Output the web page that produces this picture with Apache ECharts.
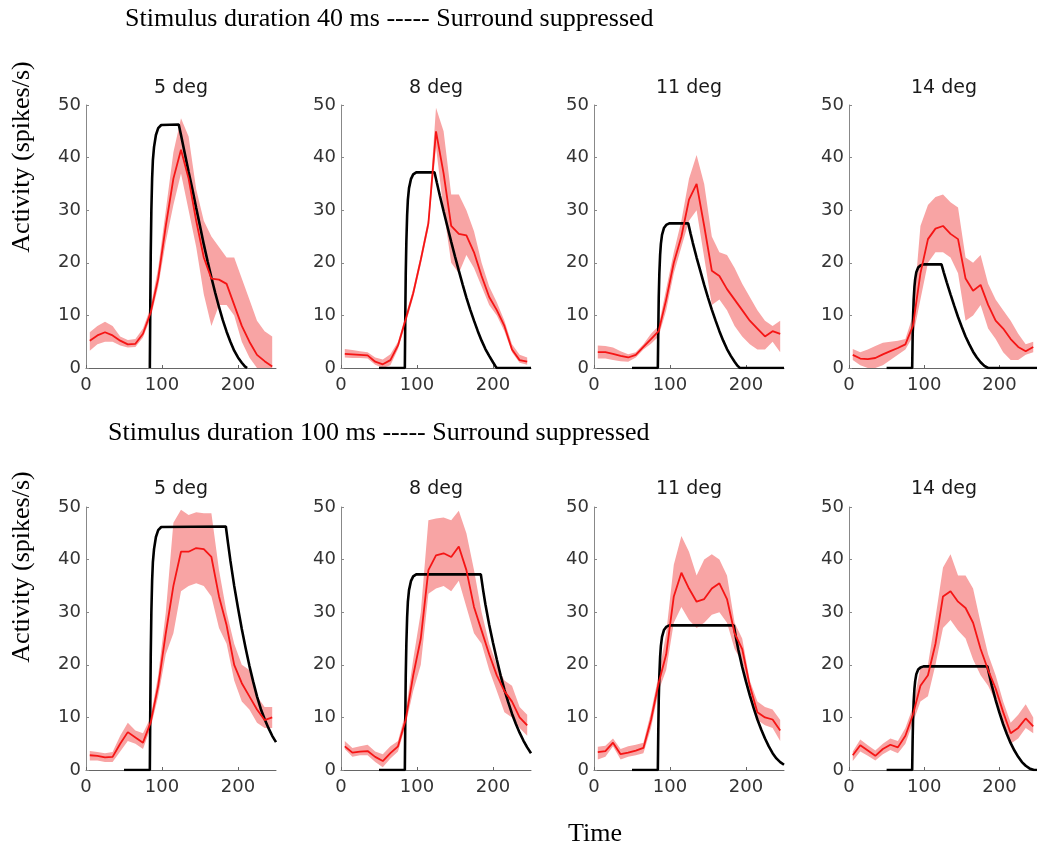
<!DOCTYPE html>
<html><head><meta charset="utf-8">
<script src="https://cdn.jsdelivr.net/npm/echarts@6/dist/echarts.min.js"></script>
<style>html,body{margin:0;padding:0;background:#fff}#c{width:1037px;height:848px}</style>
</head><body><div id="c"></div><script>
// ---- data ----
const T = [5,15,25,35,45,55,65,75,85,95,105,115,125,135,145,155,165,175,185,195,205,215,225,235,245];
const panelTitles = ['5 deg','8 deg','11 deg','14 deg'];
const rowTitles = ['Stimulus duration 40 ms ----- Surround suppressed','Stimulus duration 100 ms ----- Surround suppressed'];
const yLabel = 'Activity (spikes/s)';
const xLabel = 'Time';

// 40 ms, recorded mean and band (upper/lower)
const r40_5_mean  = [5.2,6.2,6.8,6.2,5.2,4.5,4.6,6.5,10.5,17,27,36,41.5,36,28,21,17,16.8,16,12,8,5,2.5,1.3,0.3];
const r40_5_up    = [6.8,8,8.8,8,6,5.3,5.5,7.5,11.5,19,30,41,47.5,44,34,28,25,23,21,21,17,13,9,7,6];
const r40_5_low   = [3.3,4.5,5,5,4.3,3.9,4,5.8,9.5,15.5,24,31,37,30,23,14,8,12,12,10,5,2,0,0,0];
const r40_8_mean  = [2.7,2.6,2.5,2.4,1.2,0.7,1.5,4.3,9.2,14.2,20.6,27.5,45,37,27,25.5,25.2,22,17.5,13.5,11,8,3.5,1.5,1.2];
const r40_8_up    = [3.6,3.4,3.2,3,2,1.6,2.6,5,10,15,21.5,28.5,49.5,45,33,33,30,26,20,15.5,12.5,9,4.5,2.5,2];
const r40_8_low   = [2,1.9,1.9,1.8,0.6,0,0.5,3.6,8.4,13.4,19.7,26.5,42,30,20,18,21.5,19,15.5,12,10,7,3,1,0.6];
const r40_11_mean = [3,3,2.7,2.3,2,2.5,4,5.5,7,13,20,25,32,35,27,18.5,17.5,15,13,11,9,7.5,6,7,6.5];
const r40_11_up   = [4.3,4.2,3.9,3.2,2.6,3,4.5,6.5,8,15,22,28,36,40.5,35,25,22,21.5,19,16,13.5,11,9,8,9];
const r40_11_low  = [1.8,1.8,1.5,1.3,1.2,2,3.5,4.6,6,11,18,23,28,30,21,12,13,11,8,6,4.5,3.5,3.5,5,3];
const r40_14_mean = [2.5,1.8,1.7,1.9,2.6,3.2,3.8,4.5,8,18,24.5,26.5,27,25.5,24.5,17,14.7,15.8,12,9,7.5,5.5,4,3.2,4];
const r40_14_up   = [3.6,3,3.5,4.2,4.8,5,5.2,5.5,10,27,31,32.5,33,31.5,30.5,21,20,21.5,16,13,11,9,6.5,4.5,5];
const r40_14_low  = [1.5,0.5,0,0,0.5,1.5,2.5,3.5,6,13,20,22,22,21,18,9,10,12,7.5,5.5,3,1.5,1.5,2.5,3];

// 100 ms, recorded mean and band
const r100_5_mean  = [2.8,2.7,2.4,2.5,5,7.2,6.2,5.2,9,16,26,35,41.5,41.5,42.2,42,40.5,33,27.5,20,16.5,14,11.5,9.5,10];
const r100_5_up    = [3.6,3.4,3.2,3.4,6.5,9,7.5,7,10,18,30,47,49.5,48.5,49,48.8,48.8,38,30,24,20,19,14,12,12];
const r100_5_low   = [1.8,1.8,1.5,1.5,3.5,5.5,5,4,8,14,22,26,34,35,35.5,35,33,27,24,17,13,11.5,9,8,8];
const r100_8_mean  = [4.5,3.3,3.5,3.6,2.5,1.7,3.2,4.5,9.5,18,25,38,40.8,41.2,40.5,42.5,38,31,26.5,22,18,15,13,10,8.5];
const r100_8_up    = [5.5,4.2,4.5,4.8,3.5,3,4.5,5.5,11,21,30,47.5,47.8,48,47.5,49.3,45,38,30,24,20,17,16,12,10.5];
const r100_8_low   = [4,2.5,2.8,2.8,1.5,0.5,2.2,3.5,8.5,15,20,33.5,34.5,35,34,36,31,26,24,19,15,11,10,8,6.5];
const r100_11_mean = [3.4,3.6,5.2,3,3.3,3.7,4.2,9.5,16.5,22,33,37.5,34.5,32,32.5,34.5,35.5,32.5,26,23,16,11,10,9.6,7.5];
const r100_11_up   = [4.4,4.6,6,4,4.5,4.8,5.2,11,18,26,39,44.5,41.5,37,40,41,40,37,28,25,17,13,12,11.5,9.5];
const r100_11_low  = [2,2.5,4.5,2,2.5,2.8,3.2,8,15,19,28,31,28.5,27,28,29.5,30,28,23,20.5,14.5,9.5,8.5,8,5.5];
const r100_14_mean = [2.8,4.7,3.7,2.7,4,4.8,4.3,6.5,10.5,16,18,24,33,34,32,30.8,28,23,19,15.5,11,7,8,9.8,8.3];
const r100_14_up   = [3.5,5.8,4.7,3.7,5,6,5.5,8,12,19.5,20,29,38.5,41,37,37,34.5,28,22,18,13,9,10.5,12.5,10];
const r100_14_low  = [1.7,3.5,2.7,1.8,3,3.8,3.2,5,9,13,14,20,27,28.5,26.5,25,21,18,16,13,8.5,5,6,8,7];

// model (black) curves as [time, activity]
const m40_5  = [[84,0],[84.6,12],[85.2,22],[86,30],[87,36],[88,39.5],[89.5,42],[92,44.3],[95,45.6],[99,46.2],[122,46.3],[125,44.3],[130,40.8],[135,37.3],[140,34],[145,30.4],[150,27],[155,23.5],[160,20.3],[165,17.2],[170,14.3],[175,11.6],[180,9.1],[185,6.9],[190,5],[195,3.3],[200,2],[205,1],[209,0.3],[212,0]];
const m40_8  = [[50,0],[84,0],[84.6,10],[85.2,18],[86,24],[87,29],[88,32],[89.5,34.2],[92,35.9],[95,36.8],[99,37.2],[123,37.2],[126,35.3],[130,32.8],[135,29.8],[140,26.9],[145,24],[150,21.2],[155,18.5],[160,15.9],[165,13.4],[170,11.1],[175,9],[180,7],[185,5.2],[190,3.6],[195,2.3],[200,1.1],[203,0.4],[205,0],[250,0]];
const m40_11 = [[50,0],[84,0],[84.6,7.5],[85.2,13.5],[86,18],[87,21.5],[88,23.6],[89.5,25.3],[92,26.6],[95,27.2],[99,27.5],[124,27.5],[127,25.6],[130,23.8],[135,21],[140,18.4],[145,15.8],[150,13.4],[155,11.1],[160,9],[165,7],[170,5.2],[175,3.6],[180,2.3],[185,1.2],[189,0.4],[192,0],[250,0]];
const m40_14 = [[50,0],[84,0],[84.6,5.5],[85.2,9.8],[86,13],[87,15.4],[88,16.9],[89.5,18.2],[92,19.1],[95,19.5],[99,19.7],[123,19.7],[126,18.2],[130,16.3],[135,14],[140,11.8],[145,9.7],[150,7.8],[155,6],[160,4.5],[165,3.1],[170,2],[175,1.1],[180,0.4],[185,0],[250,0]];
const m100_5  = [[50,0],[84,0],[84.6,12],[85.2,22],[86,30],[87,36],[88,39.5],[89.5,42],[92,44.3],[95,45.6],[99,46.2],[184,46.3],[187,43],[190,39.8],[195,35],[200,30.8],[205,26.8],[210,23.2],[215,19.8],[220,16.8],[225,14],[230,11.6],[235,9.7],[240,8],[245,6.5],[250,5.3]];
const m100_8  = [[50,0],[84,0],[84.6,10],[85.2,18],[86,24],[87,29],[88,32],[89.5,34.2],[92,35.9],[95,36.8],[99,37.2],[184,37.2],[187,34.2],[190,31.5],[195,27.6],[200,24.2],[205,21],[210,18],[215,15.3],[220,12.9],[225,10.7],[230,8.8],[235,7.1],[240,5.6],[245,4.3],[250,3.2]];
const m100_11 = [[50,0],[84,0],[84.6,7.5],[85.2,13.5],[86,18],[87,21.5],[88,23.6],[89.5,25.3],[92,26.6],[95,27.2],[99,27.5],[184,27.5],[187,25],[190,22.8],[195,19.6],[200,16.8],[205,14.2],[210,11.8],[215,9.6],[220,7.7],[225,6],[230,4.5],[235,3.2],[240,2.2],[245,1.5],[250,1]];
const m100_14 = [[50,0],[84,0],[84.6,5.5],[85.2,9.8],[86,13],[87,15.4],[88,16.9],[89.5,18.2],[92,19.1],[95,19.5],[99,19.7],[184,19.7],[187,17.8],[190,16],[195,13.3],[200,10.9],[205,8.7],[210,6.8],[215,5.1],[220,3.7],[225,2.5],[230,1.5],[235,0.8],[240,0.3],[246,0],[250,0]];

// ---- assembly ----
const panels = [
  {mean:r40_5_mean, up:r40_5_up, low:r40_5_low, model:m40_5},
  {mean:r40_8_mean, up:r40_8_up, low:r40_8_low, model:m40_8},
  {mean:r40_11_mean, up:r40_11_up, low:r40_11_low, model:m40_11},
  {mean:r40_14_mean, up:r40_14_up, low:r40_14_low, model:m40_14},
  {mean:r100_5_mean, up:r100_5_up, low:r100_5_low, model:m100_5},
  {mean:r100_8_mean, up:r100_8_up, low:r100_8_low, model:m100_8},
  {mean:r100_11_mean, up:r100_11_up, low:r100_11_low, model:m100_11},
  {mean:r100_14_mean, up:r100_14_up, low:r100_14_low, model:m100_14}
];
const lefts = [86, 341, 594, 849];
const tops = [105, 507];
const W = 190, H = 263;
const SANS = 'DejaVu Sans';
const SERIF = 'Liberation Serif';

// band drawn as one polygon through the axes' own coordinate mapping
function bandRenderer(params, api) {
  if (params.dataIndexInside !== 0) return null;
  const n = params.dataInsideLength;
  const top = [], bot = [];
  for (let k = 0; k < n; k++) {
    const t = api.value(0, k);
    top.push(api.coord([t, api.value(2, k)]));
    bot.push(api.coord([t, api.value(1, k)]));
  }
  const pts = top.concat(bot.reverse());
  return {
    type: 'polygon', shape: {points: pts},
    style: {fill: '#f8a4a4', stroke: null},
    clipPath: {type: 'rect', shape: {x: params.coordSys.x, y: params.coordSys.y, width: params.coordSys.width, height: params.coordSys.height}}
  };
}

const grid = [], xAxis = [], yAxis = [], series = [], title = [];
panels.forEach((p, i) => {
  const col = i % 4, row = Math.floor(i / 4);
  grid.push({left: lefts[col], top: tops[row], width: W, height: H, containLabel: false});
  xAxis.push({
    type: 'value', gridIndex: i, min: 0, max: 250, interval: 100,
    axisLine: {show: true, onZero: false, lineStyle: {color: '#666', width: 1}},
    axisTick: {show: true, inside: true, length: 3, lineStyle: {color: '#666'}},
    axisLabel: {color: '#333', fontFamily: SANS, fontSize: 18, margin: 8, showMaxLabel: false},
    splitLine: {show: false}
  });
  yAxis.push({
    type: 'value', gridIndex: i, min: 0, max: 50, interval: 10,
    axisLine: {show: true, lineStyle: {color: '#888', width: 1}},
    axisTick: {show: true, inside: true, length: 3, lineStyle: {color: '#888'}},
    axisLabel: {color: '#333', fontFamily: SANS, fontSize: 18, margin: 5},
    splitLine: {show: false}
  });
  series.push({
    type: 'custom', xAxisIndex: i, yAxisIndex: i, silent: true, z: 1,
    renderItem: bandRenderer,
    encode: {x: 0, y: [1, 2]},
    data: T.map((t, k) => [t, p.low[k], p.up[k]])
  });
  series.push({
    type: 'line', xAxisIndex: i, yAxisIndex: i, symbol: 'none', silent: true,
    lineStyle: {color: '#000', width: 2.6}, data: p.model, z: 2
  });
  series.push({
    type: 'line', xAxisIndex: i, yAxisIndex: i, symbol: 'none', silent: true,
    lineStyle: {color: '#f51515', width: 1.8}, data: T.map((t, k) => [t, p.mean[k]]), z: 3
  });
  title.push({
    text: panelTitles[col], left: lefts[col] + W / 2, top: row === 0 ? 79 : 480, textAlign: 'center',
    padding: 0,
    textStyle: {fontFamily: SANS, fontSize: 19, fontWeight: 'normal', color: '#1a1a1a'}
  });
});
title.push({text: rowTitles[0], left: 125, top: 6, padding: 0,
  textStyle: {fontFamily: SERIF, fontSize: 26, fontWeight: 'normal', color: '#000'}});
title.push({text: rowTitles[1], left: 108, top: 420, padding: 0,
  textStyle: {fontFamily: SERIF, fontSize: 26, fontWeight: 'normal', color: '#000'}});
title.push({text: xLabel, left: 595, top: 821, textAlign: 'center', padding: 0,
  textStyle: {fontFamily: SERIF, fontSize: 26, fontWeight: 'normal', color: '#000'}});

const graphic = [157, 567].map(cy => ({
  type: 'text', x: 22, y: cy, rotation: Math.PI / 2, silent: true,
  style: {text: yLabel, font: '26px "Liberation Serif"', fill: '#000', align: 'center', verticalAlign: 'middle'}
}));

const chart = echarts.init(document.getElementById('c'), null, {renderer: 'canvas'});
chart.setOption({animation: false, backgroundColor: '#fff', title, grid, xAxis, yAxis, series, graphic});
</script></body></html>
